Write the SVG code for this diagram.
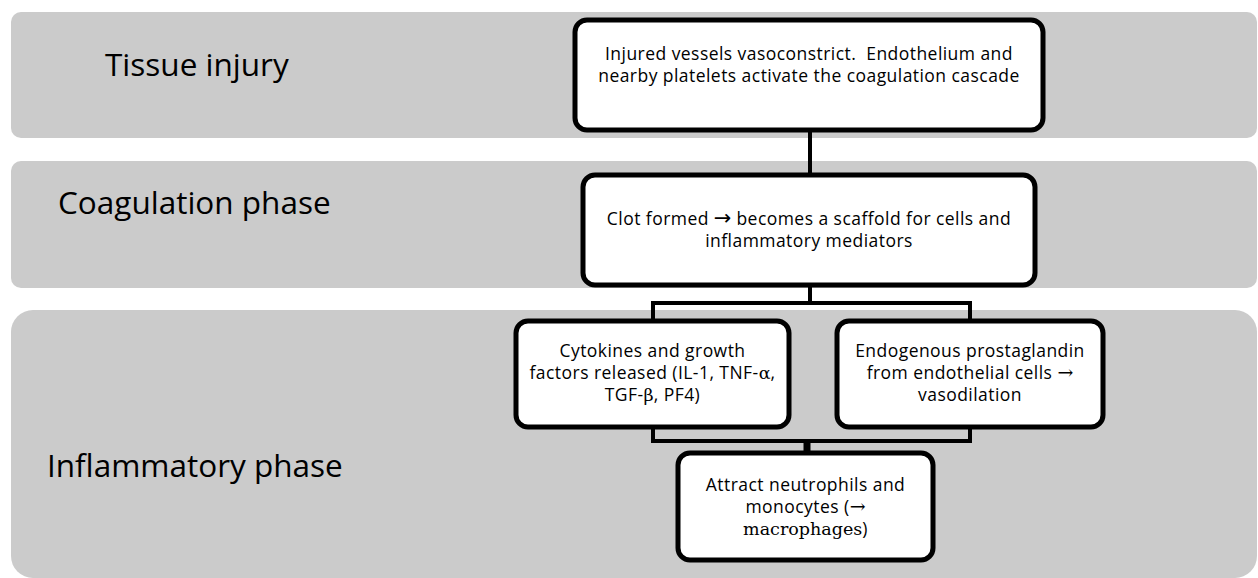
<svg xmlns="http://www.w3.org/2000/svg" width="1258" height="578" viewBox="0 0 1258 578">
<style>
.band{fill:#cbcbcb;}
.node{fill:#ffffff;stroke:#000000;stroke-width:5;}
.lbl{font-family:"Open Sans","Noto Sans",sans-serif;font-size:31.5px;fill:#000;}
.t{font-family:"Open Sans","Noto Sans",sans-serif;font-size:17.5px;letter-spacing:0.45px;fill:#000;text-anchor:middle;}
.sf{font-family:"DejaVu Serif","Liberation Serif",serif;letter-spacing:0;}
.ar{font-family:"DejaVu Sans",sans-serif;font-size:21px;letter-spacing:0;}
.la{font-family:"DejaVu Serif","Liberation Serif",serif;font-size:19px;letter-spacing:0;}
.conn{fill:none;stroke:#000;stroke-width:4;}
</style>
<rect width="1258" height="578" fill="#ffffff"/>
<g id="bands">
<rect class="band" x="11" y="12" width="1246" height="126" rx="10"/>
<rect class="band" x="11" y="161" width="1246" height="127" rx="10"/>
<rect class="band" x="11" y="310" width="1246" height="268" rx="22"/>
</g>
<g id="labels">
<text class="lbl" x="105" y="76">Tissue injury</text>
<text class="lbl" x="58" y="214">Coagulation phase</text>
<text class="lbl" x="47" y="477">Inflammatory phase</text>
</g>
<g id="connectors">
<line class="conn" x1="810" y1="130" x2="810" y2="175"/>
<line class="conn" x1="810" y1="285" x2="810" y2="303"/>
<polyline class="conn" points="653,321 653,303 970,303 970,321"/>
<polyline class="conn" points="653,427 653,441 970,441 970,427"/>
<line x1="807" y1="441" x2="807" y2="453" stroke="#000" stroke-width="7"/>
</g>
<g id="node-injury">
<rect class="node" x="575" y="20" width="468" height="110" rx="12"/>
<text class="t" x="809" y="60">Injured vessels vasoconstrict.&#160; Endothelium and</text>
<text class="t" x="809" y="82">nearby platelets activate the coagulation cascade</text>
</g>
<g id="node-clot">
<rect class="node" x="583" y="175" width="452" height="110" rx="12"/>
<text class="t" x="809" y="225">Clot formed <tspan class="ar">→</tspan> becomes a scaffold for cells and</text>
<text class="t" x="809" y="247">inflammatory mediators</text>
</g>
<g id="node-cytokines">
<rect class="node" x="516" y="321" width="273" height="106" rx="12"/>
<text class="t" x="652.5" y="357">Cytokines and growth</text>
<text class="t" x="652.5" y="379">factors released (IL-1, TNF-<tspan class="sf">α</tspan>,</text>
<text class="t" x="652.5" y="401">TGF-<tspan class="sf">β</tspan>, PF4)</text>
</g>
<g id="node-prostaglandin">
<rect class="node" x="837" y="321" width="266" height="106" rx="12"/>
<text class="t" x="970" y="357">Endogenous prostaglandin</text>
<text class="t" x="970" y="379">from endothelial cells <tspan class="la">→</tspan></text>
<text class="t" x="970" y="401">vasodilation</text>
</g>
<g id="node-attract">
<rect class="node" x="678" y="453" width="255" height="107" rx="12"/>
<text class="t" x="805.5" y="491">Attract neutrophils and</text>
<text class="t" x="805.5" y="513">monocytes (<tspan class="la">→</tspan></text>
<text class="t" x="805.5" y="535"><tspan class="sf">macrophages</tspan>)</text>
</g>
</svg>
